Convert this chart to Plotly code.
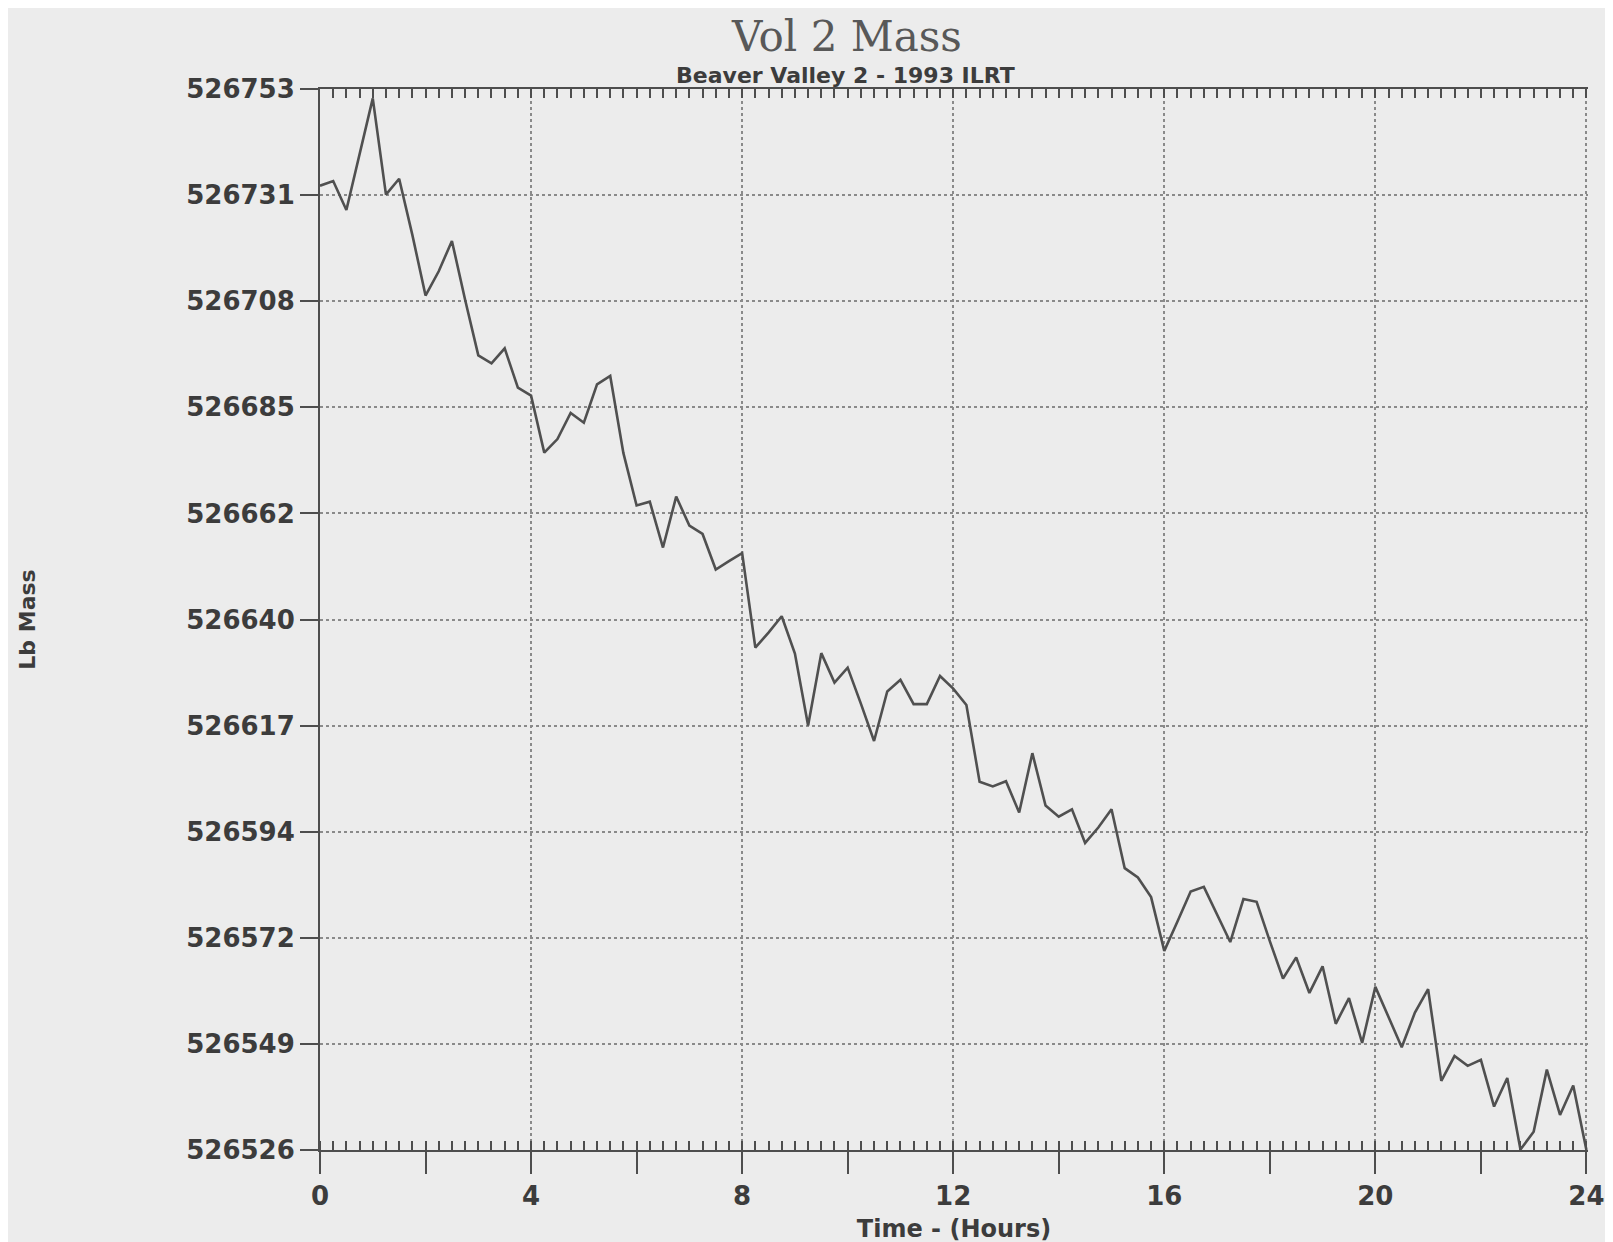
import plotly.graph_objects as go

# Time in hours (15-minute readings)
hours = [0.0, 0.25, 0.5, 0.75, 1.0, 1.25, 1.5, 1.75, 2.0, 2.25, 2.5, 2.75,
         3.0, 3.25, 3.5, 3.75, 4.0, 4.25, 4.5, 4.75, 5.0, 5.25, 5.5, 5.75,
         6.0, 6.25, 6.5, 6.75, 7.0, 7.25, 7.5, 7.75, 8.0, 8.25, 8.5, 8.75,
         9.0, 9.25, 9.5, 9.75, 10.0, 10.25, 10.5, 10.75, 11.0, 11.25, 11.5, 11.75,
         12.0, 12.25, 12.5, 12.75, 13.0, 13.25, 13.5, 13.75, 14.0, 14.25, 14.5, 14.75,
         15.0, 15.25, 15.5, 15.75, 16.0, 16.25, 16.5, 16.75, 17.0, 17.25, 17.5, 17.75,
         18.0, 18.25, 18.5, 18.75, 19.0, 19.25, 19.5, 19.75, 20.0, 20.25, 20.5, 20.75,
         21.0, 21.25, 21.5, 21.75, 22.0, 22.25, 22.5, 22.75, 23.0, 23.25, 23.5, 23.75,
         24.0]

# Containment mass (lb)
mass = [526732.3, 526733.3, 526727.1, 526739.0, 526751.0, 526730.4, 526733.8, 526721.8,
        526708.8, 526714.0, 526720.5, 526707.9, 526696.0, 526694.3, 526697.5, 526689.1,
        526687.4, 526675.2, 526678.1, 526683.7, 526681.6, 526689.8, 526691.6, 526675.1,
        526663.9, 526664.7, 526654.9, 526665.8, 526659.6, 526657.8, 526650.2, 526652.0,
        526653.7, 526633.5, 526636.7, 526640.2, 526632.2, 526616.8, 526632.3, 526626.0,
        526629.2, 526621.5, 526613.5, 526624.1, 526626.6, 526621.4, 526621.4, 526627.4,
        526624.7, 526621.2, 526604.8, 526603.8, 526604.9, 526598.2, 526610.9, 526599.7,
        526597.3, 526598.9, 526591.7, 526595.0, 526598.9, 526586.3, 526584.3, 526580.1,
        526568.6, 526574.9, 526581.3, 526582.3, 526576.5, 526570.5, 526579.7, 526579.1,
        526570.7, 526562.7, 526567.2, 526559.6, 526565.3, 526553.0, 526558.5, 526548.9,
        526560.9, 526554.6, 526548.0, 526555.4, 526560.4, 526540.8, 526546.1, 526544.0,
        526545.3, 526535.3, 526541.4, 526526.1, 526529.9, 526543.2, 526533.5, 526539.8,
        526526.0]

# Y axis tick positions (evenly spaced across the range) and printed labels
y_tickvals = [526526.0, 526548.7, 526571.4, 526594.1, 526616.8, 526639.5,
              526662.2, 526684.9, 526707.6, 526730.3, 526753.0]
y_ticktext = ["526526", "526549", "526572", "526594", "526617", "526640",
              "526662", "526685", "526708", "526731", "526753"]

# X axis major ticks (every 2 h) and labels (every 4 h)
x_tickvals = [0, 2, 4, 6, 8, 10, 12, 14, 16, 18, 20, 22, 24]
x_ticktext = ["0", "", "4", "", "8", "", "12", "", "16", "", "20", "", "24"]
x_gridvals = [4, 8, 12, 16, 20, 24]

title_text = "Vol 2 Mass"
subtitle_text = "Beaver Valley 2 - 1993 ILRT"
x_title = "Time - (Hours)"
y_title = "Lb Mass"

BG = "#ececec"
INK = "#4e4e4e"
GRID = "#8a8a8a"
TICKFONT = dict(family="DejaVu Sans", size=26, color="#3c3c3c", weight="bold")
X_RANGE = [0, 24.03]

fig = go.Figure()
fig.add_trace(go.Scatter(
    x=hours, y=mass, mode="lines",
    line=dict(color="#505050", width=2.6),
    showlegend=False, hoverinfo="x+y",
))
# empty trace so the top (mirror) axis with grid and minor ticks is drawn
fig.add_trace(go.Scatter(x=[], y=[], xaxis="x2", yaxis="y",
                         showlegend=False, hoverinfo="skip"))

fig.update_layout(
    width=1613, height=1242,
    paper_bgcolor=BG, plot_bgcolor=BG,
    margin=dict(l=312, r=33, t=81, b=83),
    title=dict(
        text=title_text, x=839 / 1613, xanchor="center",
        y=1 - 28 / 1242, yanchor="middle",
        font=dict(family="DejaVu Serif", size=42, color="#585858"),
    ),
    xaxis=dict(
        range=X_RANGE, tickvals=x_tickvals, ticktext=x_ticktext,
        ticks="outside", ticklen=22, tickwidth=2, tickcolor=INK,
        showline=True, linecolor=INK, linewidth=2,
        showgrid=False, zeroline=False,
        minor=dict(dtick=0.25, ticks="inside", ticklen=9, tickwidth=1.5,
                   tickcolor=INK, showgrid=False),
        tickfont=TICKFONT,
        title=dict(text=x_title, standoff=10,
                   font=dict(family="DejaVu Sans", size=24, color="#3c3c3c", weight="bold")),
    ),
    xaxis2=dict(
        overlaying="x", side="top", range=X_RANGE,
        tickvals=x_gridvals, ticktext=[""] * len(x_gridvals),
        showgrid=True, griddash="dot", gridcolor=GRID, gridwidth=1.6,
        ticks="inside", ticklen=10, tickwidth=1.5, tickcolor=INK,
        showticklabels=False, showline=True, linecolor=INK, linewidth=2,
        zeroline=False,
        minor=dict(dtick=0.25, ticks="inside", ticklen=9, tickwidth=1.5,
                   tickcolor=INK, showgrid=False),
    ),
    yaxis=dict(
        range=[526526, 526753], tickvals=y_tickvals, ticktext=y_ticktext,
        ticks="outside", ticklen=18, tickwidth=2, tickcolor=INK,
        showline=True, linecolor=INK, linewidth=2,
        showgrid=True, griddash="dot", gridcolor=GRID, gridwidth=1.6,
        zeroline=False, tickfont=TICKFONT,
        title=dict(text=y_title, standoff=145,
                   font=dict(family="DejaVu Sans", size=22, color="#3c3c3c", weight="bold")),
    ),
    annotations=[dict(
        text=subtitle_text, xref="paper", yref="paper",
        x=(837 - 312) / 1268, y=1 + (81 - 67) / 1078,
        xanchor="center", yanchor="middle", showarrow=False,
        font=dict(family="DejaVu Sans", size=22, color="#3c3c3c", weight="bold"),
    )],
)

fig.write_html("out.html")
